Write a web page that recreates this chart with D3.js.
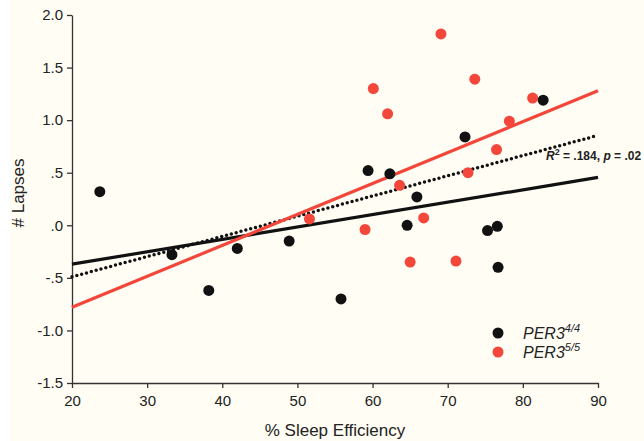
<!DOCTYPE html>
<html>
<head>
<meta charset="utf-8">
<script src="https://cdn.jsdelivr.net/npm/d3@7"></script>
<style>
  body { margin: 0; background: #fffdf4; }
  text { font-family: "Liberation Sans", Arial, sans-serif; fill: #222; }
</style>
</head>
<body>
<div id="chart"></div>
<script>
// Chart size
var svgWidth = 644;
var svgHeight = 441;

var margin = { top: 15, right: 46, bottom: 58, left: 72 };

var width = svgWidth - margin.left - margin.right;
var height = svgHeight - margin.top - margin.bottom;

// Data
var per44X = [23.7, 33.3, 38.2, 42.0, 48.9, 55.8, 59.4, 62.3, 64.6, 65.9, 72.3, 75.3, 76.6, 76.7, 82.7];
var per44Y = [0.32, -0.28, -0.62, -0.22, -0.15, -0.70, 0.52, 0.49, 0.0, 0.27, 0.84, -0.05, -0.01, -0.40, 1.19];

var per55X = [51.6, 59.0, 60.1, 62.0, 63.6, 65.0, 66.8, 69.1, 71.1, 72.7, 73.6, 76.5, 78.2, 81.3];
var per55Y = [0.06, -0.04, 1.30, 1.06, 0.38, -0.35, 0.07, 1.82, -0.34, 0.50, 1.39, 0.72, 0.99, 1.21];

// Fit lines: end points at x = 20 and x = 90
var fitX = [20, 90];
var fit44Y = [-0.37, 0.455];
var fit55Y = [-0.78, 1.28];
var fitAllY = [-0.49, 0.855];

var xTicks = [20, 30, 40, 50, 60, 70, 80, 90];
var yTicks = [2.0, 1.5, 1.0, 0.5, 0.0, -0.5, -1.0, -1.5];
var yTickLabels = ["2.0", "1.5", "1.0", ".5", ".0", "-.5", "-1.0", "-1.5"];

var red = "#f2473a";
var black = "#111";

var svg = d3.select("#chart")
  .append("svg")
  .attr("width", svgWidth)
  .attr("height", svgHeight);

svg.append("rect")
  .attr("width", svgWidth)
  .attr("height", svgHeight)
  .attr("fill", "#fffdf4");

// white strip at the left edge of the scan
svg.append("rect")
  .attr("width", 10)
  .attr("height", svgHeight)
  .attr("fill", "#ffffff");

var chartGroup = svg.append("g")
  .attr("transform", `translate(${margin.left}, ${margin.top})`);

var xScale = d3.scaleLinear().domain([20, 90]).range([0, width]);
var yScale = d3.scaleLinear().domain([-1.5, 2.0]).range([height, 0]);

// Axes
var bottomAxis = d3.axisBottom(xScale)
  .tickValues(xTicks)
  .tickSize(5)
  .tickSizeOuter(0);

var leftAxis = d3.axisLeft(yScale)
  .tickValues(yTicks)
  .tickSize(5)
  .tickSizeOuter(0)
  .tickFormat((d, i) => yTickLabels[i]);

var xAxis = chartGroup.append("g")
  .attr("transform", `translate(0, ${height})`)
  .call(bottomAxis);

var yAxis = chartGroup.append("g")
  .call(leftAxis);

[xAxis, yAxis].forEach(function(ax) {
  ax.select(".domain").attr("stroke", "#333").attr("stroke-width", 1.3);
  ax.selectAll(".tick line").attr("stroke", "#333").attr("stroke-width", 1.3);
  ax.selectAll(".tick text")
    .attr("font-size", 15)
    .attr("font-family", "Liberation Sans, Arial, sans-serif")
    .attr("fill", "#222");
});
xAxis.selectAll(".tick text").attr("dy", "1.0em").attr("y", 8);
yAxis.selectAll(".tick text").attr("x", -9);

// Axis titles
chartGroup.append("text")
  .attr("x", width / 2)
  .attr("y", height + 53)
  .attr("text-anchor", "middle")
  .attr("font-size", 17)
  .text("% Sleep Efficiency");

chartGroup.append("text")
  .attr("transform", "rotate(-90)")
  .attr("x", -height / 2 + 6)
  .attr("y", -48)
  .attr("text-anchor", "middle")
  .attr("font-size", 17)
  .text("# Lapses");

// Fit lines
var line = d3.line()
  .x(d => xScale(d[0]))
  .y(d => yScale(d[1]));

chartGroup.append("path")
  .datum(fitX.map((x, i) => [x, fit44Y[i]]))
  .attr("d", line)
  .attr("fill", "none")
  .attr("stroke", black)
  .attr("stroke-width", 3.2);

chartGroup.append("path")
  .datum(fitX.map((x, i) => [x, fitAllY[i]]))
  .attr("d", line)
  .attr("fill", "none")
  .attr("stroke", black)
  .attr("stroke-width", 3.5)
  .attr("stroke-linecap", "round")
  .attr("stroke-dasharray", "0,5");

chartGroup.append("path")
  .datum(fitX.map((x, i) => [x, fit55Y[i]]))
  .attr("d", line)
  .attr("fill", "none")
  .attr("stroke", red)
  .attr("stroke-width", 3.2);

// Points
chartGroup.selectAll(".pt44")
  .data(per44X.map((x, i) => [x, per44Y[i]]))
  .enter()
  .append("circle")
  .attr("class", "pt44")
  .attr("cx", d => xScale(d[0]))
  .attr("cy", d => yScale(d[1]))
  .attr("r", 5.5)
  .attr("fill", black);

chartGroup.selectAll(".pt55")
  .data(per55X.map((x, i) => [x, per55Y[i]]))
  .enter()
  .append("circle")
  .attr("class", "pt55")
  .attr("cx", d => xScale(d[0]))
  .attr("cy", d => yScale(d[1]))
  .attr("r", 5.5)
  .attr("fill", red);

// Annotation
var note = svg.append("text")
  .attr("x", 546)
  .attr("y", 160)
  .attr("font-size", 12)
  .attr("font-weight", "bold");
note.append("tspan").attr("font-style", "italic").text("R");
note.append("tspan").attr("font-size", 9).attr("dy", -5).text("2");
note.append("tspan").attr("dy", 5).text(" = .184, ");
note.append("tspan").attr("font-style", "italic").text("p");
note.append("tspan").text(" = .02");

// Legend
var legendItems = [
  { sup: "4/4", color: black },
  { sup: "5/5", color: red }
];

var legend = svg.append("g")
  .attr("transform", "translate(498, 333)");

legendItems.forEach(function(item, i) {
  var g = legend.append("g").attr("transform", `translate(0, ${i * 19})`);
  g.append("circle").attr("r", 5.5).attr("fill", item.color);
  var t = g.append("text")
    .attr("x", 25)
    .attr("y", 6)
    .attr("font-size", 16)
    .attr("font-style", "italic");
  t.append("tspan").text("PER3");
  t.append("tspan").attr("font-size", 11).attr("dy", -7).text(item.sup);
});
</script>
</body>
</html>
